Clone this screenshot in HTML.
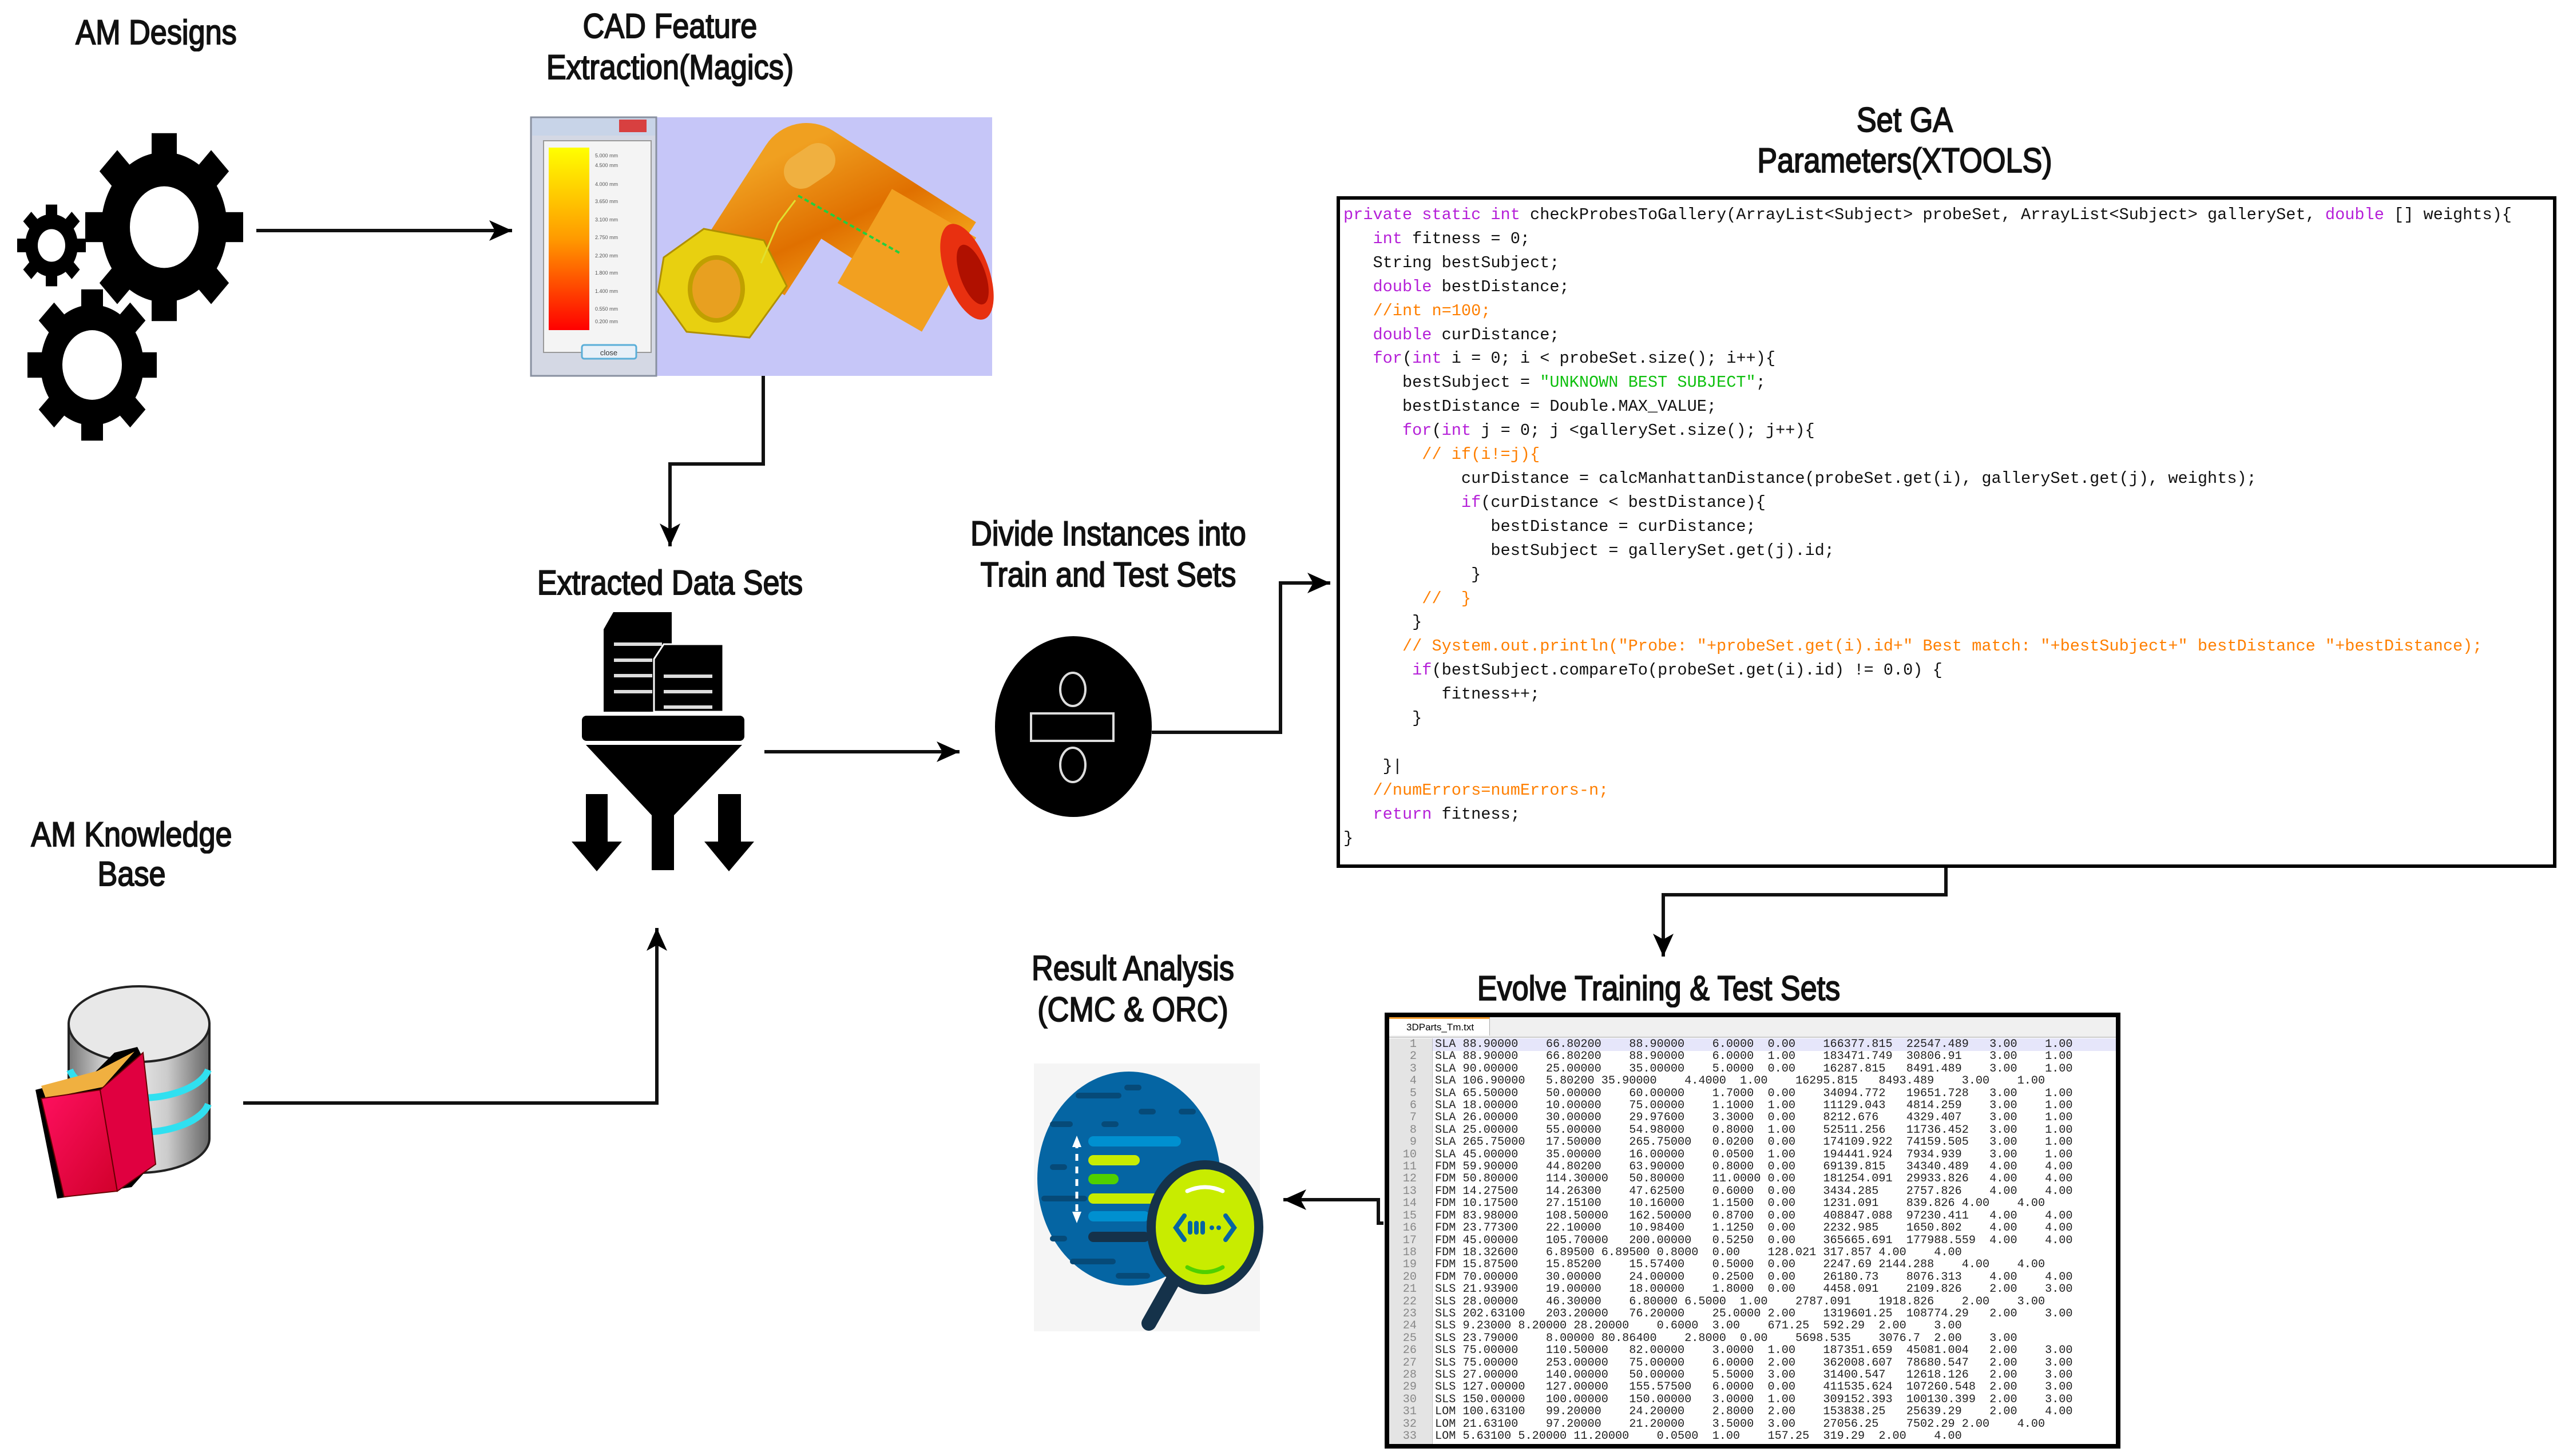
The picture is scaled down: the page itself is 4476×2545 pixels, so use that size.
<!DOCTYPE html>
<html><head><meta charset="utf-8"><style>
html,body{margin:0;padding:0;background:#fff;}
body{width:4476px;height:2545px;position:relative;overflow:hidden;font-family:"Liberation Sans",Arial,sans-serif;}
.t{position:absolute;width:1000px;text-align:center;font-size:60px;line-height:72px;color:#111;-webkit-text-stroke:2px #111;transform:scaleX(0.87);transform-origin:center;white-space:nowrap;}
.code{position:absolute;left:2336px;top:343px;width:2120px;height:1162px;border:6px solid #000;background:#fff;}
pre{margin:0;font-family:"Liberation Mono",monospace;}
.cp{position:absolute;left:2348px;top:355px;font-size:28.6px;line-height:41.9px;color:#111;}
.k{color:#b520d8}.c{color:#ff7f00}.s{color:#10c010}
.tbl{position:absolute;left:2420px;top:1770px;width:1270px;height:746px;border:8px solid #000;background:#fff;}
.tabbar{position:absolute;left:0;top:0;width:100%;height:34px;background:#f0f0f0;border-bottom:2px solid #ccc;}
.tab{position:absolute;left:0;top:0;width:176px;height:32px;background:#fff;border-top:3px solid #f7a030;border-right:1px solid #aaa;font-size:17px;line-height:30px;padding-left:30px;box-sizing:border-box;}
.gut{position:absolute;left:0;top:37px;width:75px;bottom:0;background:#e4e4e4;border-right:1px solid #bbb;}
.hl{position:absolute;left:76px;top:37px;right:0;height:22px;background:#e6e6fa;}
.gp{position:absolute;left:2426px;top:1815px;width:50px;text-align:right;font-size:20.2px;line-height:21.4px;color:#888;}
.dp{position:absolute;left:2508px;top:1815px;font-size:20.2px;line-height:21.4px;color:#222;tab-size:4;-moz-tab-size:4;}
</style></head><body>

<svg width="4476" height="2545" style="position:absolute;left:0;top:0" xmlns="http://www.w3.org/2000/svg">
<defs>
<marker id="ah" markerUnits="userSpaceOnUse" markerWidth="50" markerHeight="50" refX="40" refY="20" orient="auto">
<path d="M0,2 L40,20 L0,38 L10,20 Z" fill="#000"/>
</marker>
<linearGradient id="leg" x1="0" y1="0" x2="0" y2="1"><stop offset="0" stop-color="#ffff00"/><stop offset="0.5" stop-color="#ff9a00"/><stop offset="1" stop-color="#ff0000"/></linearGradient>
<linearGradient id="orng" x1="0" y1="0" x2="1" y2="1"><stop offset="0" stop-color="#f0a020"/><stop offset="0.5" stop-color="#e07000"/><stop offset="1" stop-color="#f8b020"/></linearGradient>
<linearGradient id="cyl" x1="0" y1="0" x2="1" y2="0"><stop offset="0" stop-color="#777"/><stop offset="0.35" stop-color="#f4f4f4"/><stop offset="0.7" stop-color="#ccc"/><stop offset="1" stop-color="#666"/></linearGradient>
<linearGradient id="book" x1="0" y1="0" x2="1" y2="1"><stop offset="0" stop-color="#ff1060"/><stop offset="1" stop-color="#d0002a"/></linearGradient>
</defs>

<g fill="#000">
<g transform="translate(287,397) scale(1,1.19)">
<circle r="110"/>
<g><rect x="-22" y="-138" width="44" height="60"/><rect x="-22" y="-138" width="44" height="60" transform="rotate(45)"/><rect x="-22" y="-138" width="44" height="60" transform="rotate(90)"/><rect x="-22" y="-138" width="44" height="60" transform="rotate(135)"/><rect x="-22" y="-138" width="44" height="60" transform="rotate(180)"/><rect x="-22" y="-138" width="44" height="60" transform="rotate(225)"/><rect x="-22" y="-138" width="44" height="60" transform="rotate(270)"/><rect x="-22" y="-138" width="44" height="60" transform="rotate(315)"/></g>
<circle r="60" fill="#fff"/></g>
<g transform="translate(90,429) scale(1,1.19)">
<circle r="46"/>
<g><rect x="-10" y="-60" width="20" height="26"/><rect x="-10" y="-60" width="20" height="26" transform="rotate(45)"/><rect x="-10" y="-60" width="20" height="26" transform="rotate(90)"/><rect x="-10" y="-60" width="20" height="26" transform="rotate(135)"/><rect x="-10" y="-60" width="20" height="26" transform="rotate(180)"/><rect x="-10" y="-60" width="20" height="26" transform="rotate(225)"/><rect x="-10" y="-60" width="20" height="26" transform="rotate(270)"/><rect x="-10" y="-60" width="20" height="26" transform="rotate(315)"/></g>
<circle r="24" fill="#fff"/></g>
<g transform="translate(161,638) scale(1,1.17)">
<circle r="90"/>
<g><rect x="-19" y="-113" width="38" height="50"/><rect x="-19" y="-113" width="38" height="50" transform="rotate(45)"/><rect x="-19" y="-113" width="38" height="50" transform="rotate(90)"/><rect x="-19" y="-113" width="38" height="50" transform="rotate(135)"/><rect x="-19" y="-113" width="38" height="50" transform="rotate(180)"/><rect x="-19" y="-113" width="38" height="50" transform="rotate(225)"/><rect x="-19" y="-113" width="38" height="50" transform="rotate(270)"/><rect x="-19" y="-113" width="38" height="50" transform="rotate(315)"/></g>
<circle r="52" fill="#fff"/></g>
</g>

<rect x="928" y="205" width="806" height="452" fill="#c6c6f8"/>
<rect x="928" y="205" width="219" height="452" fill="#d4d8e4" stroke="#8890a0" stroke-width="3"/>
<rect x="930" y="207" width="215" height="30" fill="#c8d4e8"/>
<rect x="1082" y="209" width="48" height="22" fill="#d84040"/>
<rect x="950" y="246" width="188" height="370" fill="#f4f4f4" stroke="#999" stroke-width="2"/>
<rect x="959" y="258" width="71" height="319" fill="url(#leg)"/>
<g fill="#555" font-size="9" font-family="Liberation Sans">
<text x="1040" y="275">5.000 mm</text><text x="1040" y="292">4.500 mm</text><text x="1040" y="325">4.000 mm</text><text x="1040" y="355">3.650 mm</text><text x="1040" y="387">3.100 mm</text><text x="1040" y="418">2.750 mm</text><text x="1040" y="450">2.200 mm</text><text x="1040" y="480">1.800 mm</text><text x="1040" y="512">1.400 mm</text><text x="1040" y="543">0.550 mm</text><text x="1040" y="565">0.200 mm</text></g>
<rect x="1017" y="603" width="95" height="24" rx="4" fill="#e8f0f8" stroke="#5aaed8" stroke-width="3"/>
<text x="1064" y="621" font-size="13" text-anchor="middle" fill="#333" font-family="Liberation Sans">close</text>
<path d="M1300,470 L1410,300 L1660,460" fill="none" stroke="url(#orng)" stroke-width="170" stroke-linejoin="round"/>
<path d="M1400,300 L1430,280" stroke="#f0b040" stroke-width="60" stroke-linecap="round"/>
<rect x="1500" y="360" width="170" height="190" fill="#f2a020" transform="rotate(30 1585 455)"/>
<ellipse cx="1690" cy="475" rx="38" ry="88" fill="#e83010" transform="rotate(-20 1690 475)"/>
<ellipse cx="1700" cy="480" rx="22" ry="55" fill="#b01000" transform="rotate(-20 1700 480)"/>
<polygon points="1160,450 1230,400 1335,420 1375,500 1310,590 1200,580 1150,510" fill="#e8d010" stroke="#b09000" stroke-width="3"/>
<ellipse cx="1252" cy="505" rx="46" ry="55" fill="#e8a020" stroke="#c0a000" stroke-width="8"/>
<path d="M1395,342 L1572,442" stroke="#20d040" stroke-width="4" stroke-dasharray="8 5"/>
<path d="M1330,460 L1360,390 L1390,350" stroke="#e0e030" stroke-width="3" fill="none"/>

<g stroke="#111" stroke-width="6" fill="none">
<path d="M448,403 L895,403" marker-end="url(#ah)"/>
<path d="M1334,657 L1334,811 L1171,811 L1171,955" marker-end="url(#ah)"/>
<path d="M1336,1314 L1677,1314" marker-end="url(#ah)"/>
<path d="M2013,1280 L2238,1280 L2238,1019 L2325,1019" marker-end="url(#ah)"/>
<path d="M3401,1517 L3401,1564 L2907,1564 L2907,1672" marker-end="url(#ah)"/>
<path d="M2418,2138 L2409,2138 L2409,2097 L2243,2097" marker-end="url(#ah)"/>
<path d="M425,1928 L1148,1928 L1148,1622" marker-end="url(#ah)"/>
</g>

<g fill="#000">
<path d="M1072,1070 L1174,1070 L1174,1244 L1055,1244 L1055,1100 Z"/>
<path d="M1160,1126 L1264,1126 L1264,1244 L1143,1244 L1143,1152 Z" stroke="#fff" stroke-width="3"/>
<rect x="1017" y="1251" width="284" height="44" rx="8"/>
<polygon points="1024,1302 1297,1302 1178,1425 1178,1521 1139,1521 1139,1425"/>
<rect x="1024" y="1388" width="38" height="84"/><polygon points="999,1471 1087,1471 1043,1523"/>
<rect x="1255" y="1388" width="40" height="84"/><polygon points="1231,1471 1318,1471 1274,1523"/>
</g>
<g stroke="#ddd" stroke-width="6">
<path d="M1073,1126 L1157,1126 M1073,1154 L1140,1154 M1073,1181 L1140,1181 M1073,1209 L1140,1209"/>
<path d="M1160,1182 L1245,1182 M1160,1209 L1245,1209 M1160,1236 L1245,1236"/>
</g>

<ellipse cx="1876" cy="1270" rx="137" ry="158" fill="#000"/>
<g fill="none" stroke="#ddd" stroke-width="4">
<ellipse cx="1875" cy="1205" rx="22" ry="29"/>
<rect x="1802" y="1247" width="144" height="48"/>
<ellipse cx="1875" cy="1337" rx="22" ry="30"/>
</g>

<rect x="1807" y="1859" width="395" height="468" fill="#f5f5f5"/>
<ellipse cx="1973" cy="2060" rx="160" ry="187" fill="#0565a3"/>
<g fill="#064a78">
<rect x="1880" y="1910" width="80" height="10" rx="5"/><rect x="1965" y="1896" width="30" height="10" rx="5"/><rect x="1990" y="1938" width="30" height="10" rx="5"/><rect x="2060" y="1938" width="30" height="10" rx="5"/>
<rect x="1835" y="1960" width="40" height="10" rx="5"/><rect x="1925" y="1960" width="30" height="10" rx="5"/><rect x="1835" y="2035" width="30" height="10" rx="5"/>
<rect x="1820" y="2090" width="80" height="10" rx="5"/><rect x="1835" y="2160" width="30" height="10" rx="5"/><rect x="1870" y="2200" width="80" height="10" rx="5"/><rect x="1950" y="2225" width="60" height="10" rx="5"/>
</g>
<g stroke-linecap="round" stroke-width="18">
<path d="M1911,1995 L2055,1995" stroke="#0090d0"/>
<path d="M1911,2028 L1983,2028" stroke="#c8ec00"/>
<path d="M1911,2061 L1946,2061" stroke="#50d000"/>
<path d="M1911,2095 L2018,2095" stroke="#c8ec00"/>
<path d="M1911,2126 L2000,2126" stroke="#0090d0"/>
<path d="M1911,2162 L2000,2162" stroke="#15324a"/>
</g>
<path d="M1882,1995 L1882,2130" stroke="#fff" stroke-width="5" stroke-dasharray="12 10"/>
<polygon points="1882,1985 1874,2005 1890,2005" fill="#fff"/><polygon points="1882,2138 1874,2118 1890,2118" fill="#fff"/>
<path d="M2052,2235 L2008,2313" stroke="#15324a" stroke-width="26" stroke-linecap="round"/>
<ellipse cx="2106" cy="2145" rx="94" ry="109" fill="#c8ec00" stroke="#15324a" stroke-width="16"/>
<path d="M2075,2082 Q2106,2068 2137,2082" stroke="#fff" stroke-width="7" fill="none" stroke-linecap="round"/>
<path d="M2075,2215 Q2106,2232 2137,2215" stroke="#50d000" stroke-width="7" fill="none" stroke-linecap="round"/>
<g stroke="#0565a3" stroke-width="8" fill="none" stroke-linecap="round"><path d="M2070,2125 L2055,2146 L2070,2167"/><path d="M2142,2125 L2157,2146 L2142,2167"/><path d="M2080,2138 L2080,2154 M2091,2138 L2091,2154 M2102,2138 L2102,2154"/></g>
<circle cx="2118" cy="2146" r="4" fill="#0565a3"/><circle cx="2130" cy="2146" r="4" fill="#0565a3"/>

<path d="M120,1790 L120,1990 A123,60 0 0 0 366,1990 L366,1790 Z" fill="url(#cyl)" stroke="#222" stroke-width="4"/>
<path d="M122,1870 A123,60 0 0 0 364,1870" stroke="#30e0f0" stroke-width="12" fill="none"/>
<path d="M122,1930 A123,60 0 0 0 364,1930" stroke="#30e0f0" stroke-width="12" fill="none"/>
<ellipse cx="243" cy="1790" rx="123" ry="66" fill="#e8e8e8" stroke="#222" stroke-width="4"/>
<polygon points="62,1905 160,1880 200,1840 240,1830 250,1850 270,2030 230,2075 100,2095" fill="#000"/>
<polygon points="72,1898 170,1872 235,1838 180,1900 80,1920" fill="#f0b040"/>
<polygon points="72,1920 175,1905 205,2082 112,2092" fill="url(#book)" stroke="#600" stroke-width="2"/>
<polygon points="175,1905 250,1840 272,2035 205,2082" fill="#e00040" stroke="#600" stroke-width="2"/>
</svg>

<div class="t" style="left:-227px;top:21px">AM Designs</div>
<div class="t" style="left:671px;top:10px">CAD Feature</div>
<div class="t" style="left:671px;top:82px">Extraction(Magics)</div>
<div class="t" style="left:2829px;top:174px">Set GA</div>
<div class="t" style="left:2829px;top:245px">Parameters(XTOOLS)</div>
<div class="t" style="left:671px;top:983px">Extracted Data Sets</div>
<div class="t" style="left:1437px;top:897px">Divide Instances into</div>
<div class="t" style="left:1437px;top:969px">Train and Test Sets</div>
<div class="t" style="left:-270px;top:1423px">AM Knowledge</div>
<div class="t" style="left:-270px;top:1492px">Base</div>
<div class="t" style="left:1480px;top:1657px">Result Analysis</div>
<div class="t" style="left:1480px;top:1729px">(CMC &amp; ORC)</div>
<div class="t" style="left:2399px;top:1692px">Evolve Training &amp; Test Sets</div>

<div class="code"></div>
<pre class="cp"><span class="k">private static int</span> checkProbesToGallery(ArrayList&lt;Subject&gt; probeSet, ArrayList&lt;Subject&gt; gallerySet, <span class="k">double</span> [] weights){
   <span class="k">int</span> fitness = 0;
   String bestSubject;
   <span class="k">double</span> bestDistance;
   <span class="c">//int n=100;</span>
   <span class="k">double</span> curDistance;
   <span class="k">for</span>(<span class="k">int</span> i = 0; i &lt; probeSet.size(); i++){
      bestSubject = <span class="s">"UNKNOWN BEST SUBJECT"</span>;
      bestDistance = Double.MAX_VALUE;
      <span class="k">for</span>(<span class="k">int</span> j = 0; j &lt;gallerySet.size(); j++){
        <span class="c">// if(i!=j){</span>
            curDistance = calcManhattanDistance(probeSet.get(i), gallerySet.get(j), weights);
            <span class="k">if</span>(curDistance &lt; bestDistance){
               bestDistance = curDistance;
               bestSubject = gallerySet.get(j).id;
             }
        <span class="c">//  }</span>
       }
      <span class="c">// System.out.println("Probe: "+probeSet.get(i).id+" Best match: "+bestSubject+" bestDistance "+bestDistance);</span>
       <span class="k">if</span>(bestSubject.compareTo(probeSet.get(i).id) != 0.0) {
          fitness++;
       }

    }|
   <span class="c">//numErrors=numErrors-n;</span>
   <span class="k">return</span> fitness;
}</pre>

<div class="tbl"><div class="tabbar"><div class="tab">3DParts_Tm.txt</div></div><div class="gut"></div><div class="hl"></div></div>
<pre class="gp">1
2
3
4
5
6
7
8
9
10
11
12
13
14
15
16
17
18
19
20
21
22
23
24
25
26
27
28
29
30
31
32
33</pre>
<pre class="dp">SLA 88.90000&#9;66.80200&#9;88.90000&#9;6.0000&#9;0.00&#9;166377.815&#9;22547.489&#9;3.00&#9;1.00
SLA 88.90000&#9;66.80200&#9;88.90000&#9;6.0000&#9;1.00&#9;183471.749&#9;30806.91&#9;3.00&#9;1.00
SLA 90.00000&#9;25.00000&#9;35.00000&#9;5.0000&#9;0.00&#9;16287.815&#9;8491.489&#9;3.00&#9;1.00
SLA 106.90000&#9;5.80200&#9;35.90000&#9;4.4000&#9;1.00&#9;16295.815&#9;8493.489&#9;3.00&#9;1.00
SLA 65.50000&#9;50.00000&#9;60.00000&#9;1.7000&#9;0.00&#9;34094.772&#9;19651.728&#9;3.00&#9;1.00
SLA 18.00000&#9;10.00000&#9;75.00000&#9;1.1000&#9;1.00&#9;11129.043&#9;4814.259&#9;3.00&#9;1.00
SLA 26.00000&#9;30.00000&#9;29.97600&#9;3.3000&#9;0.00&#9;8212.676&#9;4329.407&#9;3.00&#9;1.00
SLA 25.00000&#9;55.00000&#9;54.98000&#9;0.8000&#9;1.00&#9;52511.256&#9;11736.452&#9;3.00&#9;1.00
SLA 265.75000&#9;17.50000&#9;265.75000&#9;0.0200&#9;0.00&#9;174109.922&#9;74159.505&#9;3.00&#9;1.00
SLA 45.00000&#9;35.00000&#9;16.00000&#9;0.0500&#9;1.00&#9;194441.924&#9;7934.939&#9;3.00&#9;1.00
FDM 59.90000&#9;44.80200&#9;63.90000&#9;0.8000&#9;0.00&#9;69139.815&#9;34340.489&#9;4.00&#9;4.00
FDM 50.80000&#9;114.30000&#9;50.80000&#9;11.0000&#9;0.00&#9;181254.091&#9;29933.826&#9;4.00&#9;4.00
FDM 14.27500&#9;14.26300&#9;47.62500&#9;0.6000&#9;0.00&#9;3434.285&#9;2757.826&#9;4.00&#9;4.00
FDM 10.17500&#9;27.15100&#9;10.16000&#9;1.1500&#9;0.00&#9;1231.091&#9;839.826&#9;4.00&#9;4.00
FDM 83.98000&#9;108.50000&#9;162.50000&#9;0.8700&#9;0.00&#9;408847.088&#9;97230.411&#9;4.00&#9;4.00
FDM 23.77300&#9;22.10000&#9;10.98400&#9;1.1250&#9;0.00&#9;2232.985&#9;1650.802&#9;4.00&#9;4.00
FDM 45.00000&#9;105.70000&#9;200.00000&#9;0.5250&#9;0.00&#9;365665.691&#9;177988.559&#9;4.00&#9;4.00
FDM 18.32600&#9;6.89500&#9;6.89500&#9;0.8000&#9;0.00&#9;128.021&#9;317.857&#9;4.00&#9;4.00
FDM 15.87500&#9;15.85200&#9;15.57400&#9;0.5000&#9;0.00&#9;2247.69&#9;2144.288&#9;4.00&#9;4.00
FDM 70.00000&#9;30.00000&#9;24.00000&#9;0.2500&#9;0.00&#9;26180.73&#9;8076.313&#9;4.00&#9;4.00
SLS 21.93900&#9;19.00000&#9;18.00000&#9;1.8000&#9;0.00&#9;4458.091&#9;2109.826&#9;2.00&#9;3.00
SLS 28.00000&#9;46.30000&#9;6.80000&#9;6.5000&#9;1.00&#9;2787.091&#9;1918.826&#9;2.00&#9;3.00
SLS 202.63100&#9;203.20000&#9;76.20000&#9;25.0000&#9;2.00&#9;1319601.25&#9;108774.29&#9;2.00&#9;3.00
SLS 9.23000&#9;8.20000&#9;28.20000&#9;0.6000&#9;3.00&#9;671.25&#9;592.29&#9;2.00&#9;3.00
SLS 23.79000&#9;8.00000&#9;80.86400&#9;2.8000&#9;0.00&#9;5698.535&#9;3076.7&#9;2.00&#9;3.00
SLS 75.00000&#9;110.50000&#9;82.00000&#9;3.0000&#9;1.00&#9;187351.659&#9;45081.004&#9;2.00&#9;3.00
SLS 75.00000&#9;253.00000&#9;75.00000&#9;6.0000&#9;2.00&#9;362008.607&#9;78680.547&#9;2.00&#9;3.00
SLS 27.00000&#9;140.00000&#9;50.00000&#9;5.5000&#9;3.00&#9;31400.547&#9;12618.126&#9;2.00&#9;3.00
SLS 127.00000&#9;127.00000&#9;155.57500&#9;6.0000&#9;0.00&#9;411535.624&#9;107260.548&#9;2.00&#9;3.00
SLS 150.00000&#9;100.00000&#9;150.00000&#9;3.0000&#9;1.00&#9;309152.393&#9;100130.399&#9;2.00&#9;3.00
LOM 100.63100&#9;99.20000&#9;24.20000&#9;2.8000&#9;2.00&#9;153838.25&#9;25639.29&#9;2.00&#9;4.00
LOM 21.63100&#9;97.20000&#9;21.20000&#9;3.5000&#9;3.00&#9;27056.25&#9;7502.29&#9;2.00&#9;4.00
LOM 5.63100&#9;5.20000&#9;11.20000&#9;0.0500&#9;1.00&#9;157.25&#9;319.29&#9;2.00&#9;4.00</pre>
</body></html>
